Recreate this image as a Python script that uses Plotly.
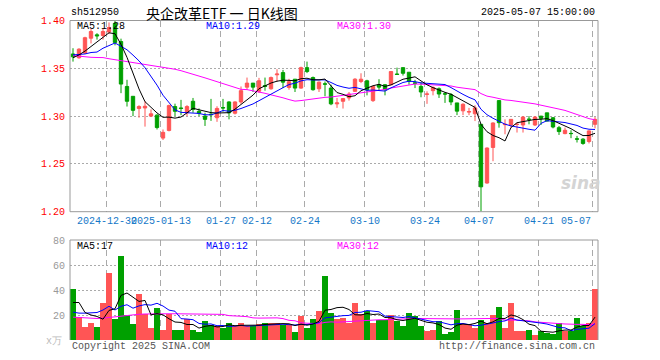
import plotly.graph_objects as go

# ---------------- data ----------------
dates = [
    "2024-12-20", "2024-12-23", "2024-12-24", "2024-12-25", "2024-12-26", "2024-12-27", "2024-12-30", "2024-12-31",
    "2025-01-02", "2025-01-03", "2025-01-06", "2025-01-07", "2025-01-08", "2025-01-09", "2025-01-10", "2025-01-13",
    "2025-01-14", "2025-01-15", "2025-01-16", "2025-01-17", "2025-01-20", "2025-01-21", "2025-01-22", "2025-01-23",
    "2025-01-24", "2025-01-27",
    "2025-02-05", "2025-02-06", "2025-02-07", "2025-02-10", "2025-02-11", "2025-02-12", "2025-02-13", "2025-02-14",
    "2025-02-17", "2025-02-18", "2025-02-19", "2025-02-20", "2025-02-21", "2025-02-24", "2025-02-25", "2025-02-26",
    "2025-02-27", "2025-02-28",
    "2025-03-03", "2025-03-04", "2025-03-05", "2025-03-06", "2025-03-07", "2025-03-10", "2025-03-11", "2025-03-12",
    "2025-03-13", "2025-03-14", "2025-03-17", "2025-03-18", "2025-03-19", "2025-03-20", "2025-03-21", "2025-03-24",
    "2025-03-25", "2025-03-26", "2025-03-27", "2025-03-28", "2025-03-31",
    "2025-04-01", "2025-04-02", "2025-04-03", "2025-04-07", "2025-04-08", "2025-04-09", "2025-04-10", "2025-04-11",
    "2025-04-14", "2025-04-15", "2025-04-16", "2025-04-17", "2025-04-18", "2025-04-21", "2025-04-22", "2025-04-23",
    "2025-04-24", "2025-04-25", "2025-04-28", "2025-04-29", "2025-04-30",
    "2025-05-06", "2025-05-07",
]

opens = [
    1.365, 1.361, 1.366, 1.3815, 1.385, 1.3843, 1.388, 1.397, 1.378, 1.331,
    1.3207, 1.308, 1.3085, 1.300, 1.301, 1.277, 1.285, 1.310, 1.3085, 1.3035,
    1.3155, 1.305, 1.300, 1.302, 1.2983, 1.309, 1.3148, 1.303, 1.3148, 1.3303,
    1.3345, 1.326, 1.332, 1.3286, 1.3432, 1.3455, 1.330, 1.3386, 1.3293, 1.3507,
    1.3403, 1.3286, 1.3338, 1.3293, 1.3128, 1.3155, 1.319, 1.3259, 1.3362, 1.3369,
    1.3162, 1.3328, 1.3328, 1.3328, 1.344, 1.3507, 1.3459, 1.3348, 1.331, 1.3228,
    1.3266, 1.3286, 1.3233, 1.3224, 1.3138, 1.3055, 1.3042, 1.3024, 1.2914, 1.230,
    1.2672, 1.3162, 1.291, 1.2907, 1.2912, 1.2907, 1.2968, 1.2907, 1.300, 1.3034,
    1.2983, 1.2879, 1.2817, 1.2819, 1.2762, 1.2759, 1.2734, 1.2914,
]
highs = [
    1.371, 1.371, 1.383, 1.391, 1.3867, 1.392, 1.398, 1.401, 1.381, 1.338,
    1.321, 1.3114, 1.3155, 1.307, 1.302, 1.286, 1.312, 1.313, 1.317, 1.3115,
    1.319, 1.308, 1.3035, 1.318, 1.3103, 1.318, 1.3155, 1.3155, 1.331, 1.3403,
    1.3345, 1.340, 1.3403, 1.3414, 1.349, 1.3483, 1.339, 1.3386, 1.3517, 1.357,
    1.3414, 1.3362, 1.3362, 1.3328, 1.319, 1.319, 1.3252, 1.3397, 1.3448, 1.338,
    1.3314, 1.3386, 1.3334, 1.3472, 1.3507, 1.3507, 1.346, 1.3379, 1.3355, 1.3259,
    1.331, 1.330, 1.3252, 1.3241, 1.3138, 1.3134, 1.3086, 1.3114, 1.2914, 1.2672,
    1.2935, 1.3165, 1.2966, 1.2966, 1.2931, 1.300, 1.300, 1.300, 1.300, 1.3034,
    1.299, 1.2897, 1.2879, 1.2852, 1.2793, 1.2769, 1.2852, 1.299,
]
lows = [
    1.357, 1.360, 1.365, 1.376, 1.380, 1.380, 1.386, 1.374, 1.324, 1.310,
    1.300, 1.2983, 1.289, 1.299, 1.286, 1.275, 1.284, 1.300, 1.301, 1.300,
    1.3035, 1.300, 1.2897, 1.295, 1.294, 1.3045, 1.2966, 1.3017, 1.3128, 1.3276,
    1.3252, 1.3241, 1.3266, 1.3276, 1.336, 1.3293, 1.3276, 1.3252, 1.3286, 1.345,
    1.3266, 1.3252, 1.3207, 1.3114, 1.3086, 1.3079, 1.3162, 1.3252, 1.3345, 1.3217,
    1.3148, 1.3266, 1.3217, 1.3328, 1.343, 1.3424, 1.3328, 1.3293, 1.3197, 1.3128,
    1.3217, 1.319, 1.3138, 1.3114, 1.301, 1.301, 1.301, 1.2948, 1.2002, 1.2293,
    1.2528, 1.2879, 1.281, 1.2879, 1.2828, 1.2828, 1.2914, 1.2897, 1.2907, 1.2945,
    1.2872, 1.2803, 1.281, 1.2769, 1.2724, 1.270, 1.2714, 1.2872,
]
closes = [
    1.362, 1.370, 1.382, 1.3885, 1.384, 1.3885, 1.3927, 1.377, 1.3335, 1.3155,
    1.306, 1.310, 1.3103, 1.3024, 1.288, 1.283, 1.311, 1.305, 1.308, 1.310,
    1.307, 1.303, 1.2966, 1.3015, 1.308, 1.3085, 1.3034, 1.3148, 1.3266, 1.3345,
    1.3303, 1.337, 1.331, 1.3403, 1.344, 1.3355, 1.336, 1.3293, 1.3507, 1.3466,
    1.3276, 1.3355, 1.3334, 1.3128, 1.3138, 1.3183, 1.3231, 1.3386, 1.3386, 1.3276,
    1.331, 1.3303, 1.3276, 1.3466, 1.3436, 1.3448, 1.3362, 1.3343, 1.3252, 1.3231,
    1.330, 1.3231, 1.3231, 1.3148, 1.3052, 1.3124, 1.3047, 1.3086, 1.226, 1.2666,
    1.2928, 1.2931, 1.2914, 1.2966, 1.2914, 1.299, 1.2966, 1.299, 1.2976, 1.2948,
    1.2886, 1.2838, 1.2852, 1.2817, 1.2759, 1.2714, 1.2845, 1.2966,
]
volumes = [
    40.7, 18.4, 10.6, 13.8, 10.6, 29.8, 53.7, 17.0, 67.3, 20.2,
    13.0, 36.7, 21.0, 9.6, 25.3, 8.0, 21.0, 8.0, 8.0, 17.0,
    8.0, 6.6, 15.0, 11.7, 11.0, 9.6, 13.6, 11.0, 13.6, 11.0,
    11.0, 12.8, 13.6, 13.6, 13.6, 12.0, 12.0, 6.6, 19.0, 9.6,
    16.5, 23.0, 51.0, 22.0, 17.0, 18.0, 14.0, 30.0, 21.0, 23.0,
    14.0, 16.0, 16.0, 20.0, 15.0, 11.0, 22.0, 19.0, 11.5, 7.5,
    8.3, 15.5, 5.0, 6.6, 24.0, 12.8, 12.8, 10.0, 16.0, 13.6,
    20.0, 26.6, 10.0, 30.0, 7.5, 7.5, 8.3, 4.3, 7.5, 6.0,
    5.0, 13.8, 7.5, 7.5, 18.0, 11.0, 14.0, 41.0,
]

# moving-average values at the start of the window
ma5_head = [1.361, 1.364, 1.368, 1.373]
ma10_head = [1.364, 1.3645, 1.365, 1.3665, 1.367, 1.371, 1.374, 1.3765, 1.373]
ma30_head = [1.3633, 1.3625, 1.3618, 1.3615, 1.3613, 1.3612, 1.360, 1.359, 1.358, 1.357,
             1.3563, 1.3555, 1.3545, 1.3535, 1.3525, 1.3515, 1.3507, 1.349, 1.3475, 1.3458,
             1.3435, 1.342, 1.340, 1.338, 1.336, 1.334, 1.332, 1.330, 1.328]
vma5_head = [30.0, 30.0, 22.0, 20.0]
vma10_head = [22.3, 21.5, 21.5, 21.5, 22.0, 24.0, 27.0, 24.0, 27.0]
vma30_head = [18.3, 18.0, 17.8, 17.5, 17.2, 17.5, 18.0, 18.5, 19.5, 20.0,
              20.3, 20.6, 20.8, 21.0, 21.0, 21.0, 21.0, 21.0, 21.0, 21.0,
              21.0, 21.0, 21.0, 21.0, 20.7, 20.5, 19.5, 19.0, 19.0]

tick_dates = ["2024-12-30", "2025-01-13", "2025-01-27", "2025-02-12", "2025-02-24",
              "2025-03-10", "2025-03-24", "2025-04-07", "2025-04-21", "2025-05-07"]
tick_labels = ["2024-12-30", "2025-01-13", "01-27", "02-12", "02-24",
               "03-10", "03-24", "04-07", "04-21", "05-07"]

price_ticks = [1.20, 1.25, 1.30, 1.35, 1.40]
price_tick_labels = ["1.20", "1.25", "1.30", "1.35", "1.40"]
vol_ticks = [20, 40, 60, 80]
vol_tick_labels = ["20", "40", "60", "80"]

code = "sh512950"
title = "央企改革ETF 一 日K线图"
stamp = "2025-05-07 15:00:00"
ma_texts = ["MA5:1.28", "MA10:1.29", "MA30:1.30"]
vma_texts = ["MA5:17", "MA10:12", "MA30:12"]

# ---------------- helpers ----------------
def moving_average(values, n, head):
    out = []
    for i in range(len(values)):
        if i < n - 1:
            out.append(head[i])
        else:
            out.append(sum(values[i - n + 1:i + 1]) / n)
    return out

RED = "#FF5555"
GREEN = "#00A000"
GRID = "#AAAAAA"
BORDER = "#999999"
MONO = "Liberation Mono, DejaVu Sans Mono, monospace"
CJK = "Noto Sans CJK SC, sans-serif"

W, H = 660, 360
ML, MR, MT, MB = 70, 62, 20, 20
PW = W - ML - MR
PH = H - MT - MB

def fx(px):
    return (px - ML) / PW

def fy(py):
    return (H - MB - py) / PH

x = list(range(len(dates)))
pos = {d: i for i, d in enumerate(dates)}
grid_x = [pos[d] - 0.4 for d in tick_dates]

price_dom = [fy(211.7), fy(20.5)]
vol_dom = [0.0, fy(240)]

ma5 = moving_average(closes, 5, ma5_head)
ma10 = moving_average(closes, 10, ma10_head)
ma30 = moving_average(closes, 30, ma30_head)
vma5 = moving_average(volumes, 5, vma5_head)
vma10 = moving_average(volumes, 10, vma10_head)
vma30 = moving_average(volumes, 30, vma30_head)
vol_colors = [RED if c >= o else GREEN for o, c in zip(opens, closes)]

fig = go.Figure()
fig.add_trace(go.Candlestick(
    x=x, open=opens, high=highs, low=lows, close=closes,
    increasing=dict(line=dict(color=RED, width=1), fillcolor=RED),
    decreasing=dict(line=dict(color=GREEN, width=1), fillcolor=GREEN),
    whiskerwidth=0, xaxis="x", yaxis="y", showlegend=False, hoverinfo="skip"))
for vals, col in [(ma30, "#FF00FF"), (ma10, "#0000FF"), (ma5, "#000000")]:
    fig.add_trace(go.Scatter(x=x, y=vals, mode="lines", line=dict(color=col, width=1),
                             xaxis="x", yaxis="y", showlegend=False, hoverinfo="skip"))

fig.add_trace(go.Bar(x=x, y=volumes, marker=dict(color=vol_colors, line=dict(width=0)),
                     width=0.84, xaxis="x2", yaxis="y2", showlegend=False, hoverinfo="skip"))
for vals, col in [(vma30, "#FF00FF"), (vma10, "#0000FF"), (vma5, "#000000")]:
    fig.add_trace(go.Scatter(x=x, y=vals, mode="lines", line=dict(color=col, width=1),
                             xaxis="x2", yaxis="y2", showlegend=False, hoverinfo="skip"))

xcommon = dict(range=[-0.5, len(dates) - 0.5], tickvals=grid_x, showticklabels=False,
               showgrid=True, gridcolor=GRID, griddash="6px,4px", gridwidth=1,
               zeroline=False, showline=False, ticks="", fixedrange=True)
fig.update_layout(
    width=W, height=H, margin=dict(l=ML, r=MR, t=MT, b=MB, autoexpand=False),
    paper_bgcolor="white", plot_bgcolor="white",
    showlegend=False, bargap=0, boxgap=0.2,
    xaxis=dict(domain=[0, 1], anchor="y", rangeslider=dict(visible=False), **xcommon),
    xaxis2=dict(domain=[0, 1], anchor="y2", matches="x", **xcommon),
    yaxis=dict(domain=price_dom, range=[1.20, 1.40], tickvals=price_ticks, ticktext=price_tick_labels,
               tickfont=dict(family=MONO, size=10, color="#FF0000"), ticks="", ticklabelstandoff=4,
               showgrid=True, gridcolor=GRID, griddash="2px,2px", zeroline=False, showline=False,
               fixedrange=True, automargin=False),
    yaxis2=dict(domain=vol_dom, range=[0, 80], tickvals=vol_ticks, ticktext=vol_tick_labels,
                tickfont=dict(family=MONO, size=10, color="#999999"), ticks="", ticklabelstandoff=4,
                showgrid=True, gridcolor=GRID, griddash="2px,2px", zeroline=False, showline=False,
                fixedrange=True, automargin=False),
)

shapes = [
    dict(type="rect", xref="paper", yref="paper", x0=0, x1=1, y0=price_dom[0], y1=price_dom[1],
         line=dict(color=BORDER, width=1), layer="above"),
    dict(type="path", xref="paper", yref="paper",
         path=f"M0,0 L0,{vol_dom[1]} L1,{vol_dom[1]} L1,0",
         line=dict(color=BORDER, width=1), layer="above"),
]
fig.update_layout(shapes=shapes)

ann = []
def text(px, py, s, size=10, color="black", family=MONO, xanchor="left", **kw):
    ann.append(dict(x=fx(px), y=fy(py), xref="paper", yref="paper", text=s, showarrow=False,
                    xanchor=xanchor, yanchor="middle", font=dict(family=family, size=size, color=color), **kw))

text(69, 13, code)
text(222, 13, title, size=14, family=CJK, xanchor="center")
text(597, 13, stamp, xanchor="right")
for s, px, col in zip(ma_texts, [75, 204, 334.7], ["black", "#0000FF", "#FF00FF"]):
    text(px, 26.5, s, color=col)
for s, px, col in zip(vma_texts, [75, 204, 334.7], ["black", "#0000FF", "#FF00FF"]):
    text(px, 246, s, color=col)
text(64, 341, "x万", color="#BBBBBB", xanchor="right")
text(70, 346, "Copyright 2025 SINA.COM", color="#555555")
text(597, 346, "http://finance.sina.com.cn", color="#555555", xanchor="right")
text(581, 183, "<b><i>sina</i></b>", size=17, color="#D4D4D4", family="DejaVu Sans, sans-serif",
     xanchor="center")

# x-axis date labels anchored to the date positions
for k, (d, lab) in enumerate(zip(tick_dates, tick_labels)):
    last = k == len(tick_dates) - 1
    ann.append(dict(x=pos[d] - 0.4, y=fy(221.7), xref="x", yref="paper", text=lab, showarrow=False,
                    xanchor="right" if last else "center", yanchor="middle",
                    font=dict(family=MONO, size=10, color="#1478C8")))

fig.update_layout(annotations=ann)
fig.write_html("out.html", config={"displayModeBar": False},
               post_script="document.body.style.margin='0';document.body.style.overflow='hidden';")
